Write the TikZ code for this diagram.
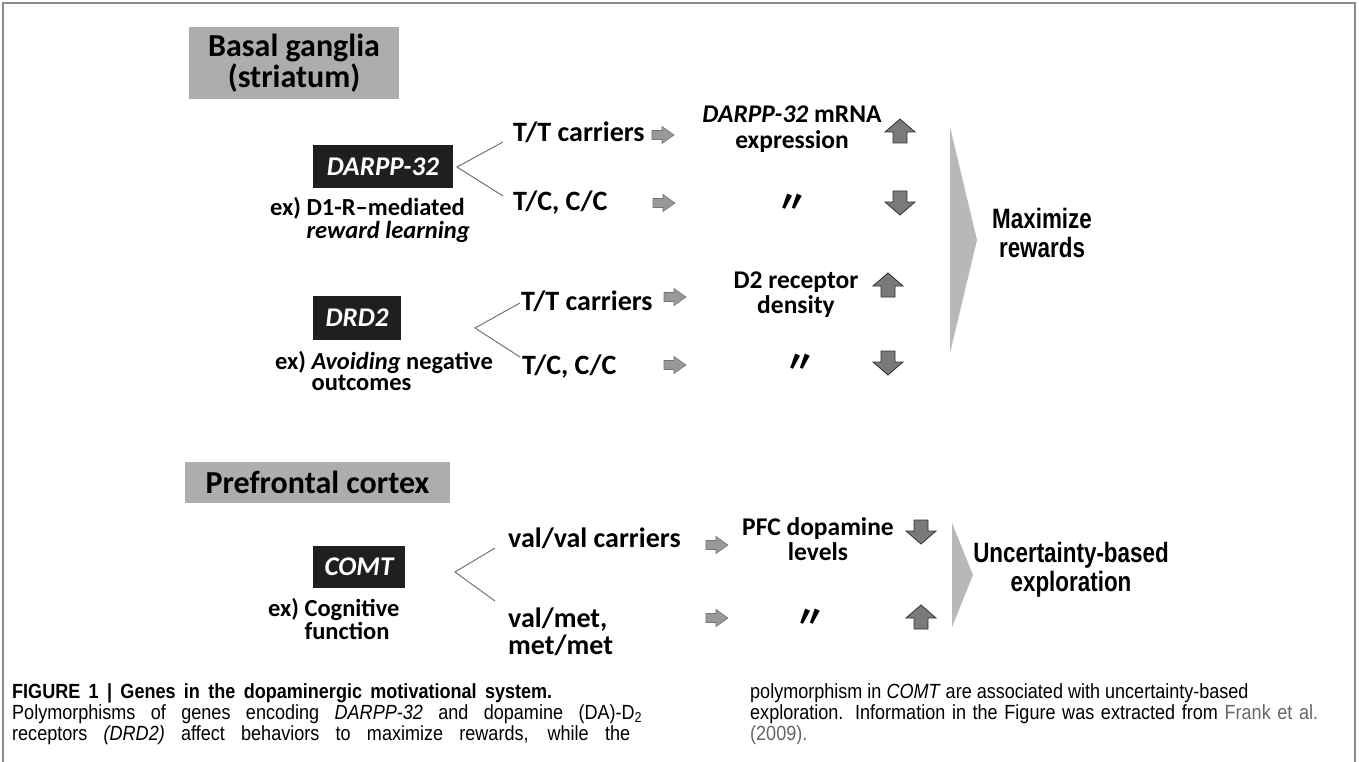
\documentclass[tikz,border=0pt]{standalone}
\usepackage{fontspec}
\setmainfont{Carlito}
\newfontfamily\outfont[FakeStretch=0.8]{Liberation Sans}
\newfontfamily\capfont[FakeStretch=0.88]{Liberation Sans}
\newfontfamily\jpfont{Noto Sans CJK JP}
\usepackage{xcolor}
\usepackage{tikz}
\usetikzlibrary{positioning}

\begin{document}
\begin{tikzpicture}[x=1pt, y=-1pt,
  region/.style={fill=black!32, inner sep=0pt, align=center, font=\fontsize{32}{31}\selectfont\bfseries},
  gene/.style={fill=black!88, text=white, inner sep=0pt, font=\fontsize{27}{27}\selectfont\bfseries\itshape},
  exlab/.style={anchor=base west, inner sep=0pt, font=\fontsize{24.5}{21.5}\selectfont\bfseries},
  geno/.style={anchor=base west, inner sep=0pt, font=\fontsize{28}{25}\selectfont\bfseries},
  effect/.style={anchor=base, inner sep=0pt, font=\fontsize{25.5}{24}\selectfont\bfseries},
  ditto/.style={inner sep=0pt, font=\jpfont\bfseries\fontsize{30}{30}\selectfont},
  fork/.style={draw=black!55, line width=1pt},
  pics/pointer/.style={code={
    \filldraw[fill=black!40, draw=black!55, line width=0.6pt]
      (-11,-4.5) -- (-1,-4.5) -- (-1,-8.5) -- (11,0) -- (-1,8.5) -- (-1,4.5) -- (-11,4.5) -- cycle;}},
  pics/bigup/.style={code={
    \filldraw[fill=black!52, draw=black!80, line width=0.8pt]
      (-7,12) -- (-7,1) -- (-15,1) -- (0,-12) -- (15,1) -- (7,1) -- (7,12) -- cycle;}},
  pics/bigdown/.style={code={
    \filldraw[fill=black!52, draw=black!80, line width=0.8pt]
      (-7,-12) -- (-7,-1) -- (-15,-1) -- (0,12) -- (15,-1) -- (7,-1) -- (7,-12) -- cycle;}},
  chevron/.style={fill=black!28},
  outcome/.style={anchor=base, inner sep=0pt, font=\outfont\fontsize{28}{29}\selectfont\bfseries},
  captext/.style={anchor=base west, inner sep=0pt, font=\capfont\fontsize{20.5}{21}\selectfont}
]
\useasboundingbox (0,0) rectangle (1359,762);
\draw[black!45, line width=1.5pt] (3,762) -- (3,3) -- (1355,3) -- (1355,762);

% basal ganglia
\node[region, minimum width=210pt, minimum height=72pt] (bg) at (294,63) {Basal ganglia\\(striatum)};

% DARPP-32
\node[gene, minimum width=140pt, minimum height=43pt] (darpp) at (383,166.5) {DARPP-32};
\node[exlab] (darppEx) at (270,215) {ex) \begin{tabular}[t]{@{}l@{}}D1-R--mediated\\\textit{reward learning}\end{tabular}};
\coordinate (dFork) at (457,167);
\coordinate (dForkUp) at (503,142);
\coordinate (dForkLo) at (503,196);
\draw[fork] (dForkUp) -- (dFork) -- (dForkLo);
\node[geno] (dTT) at (513,142) {T/T carriers};
\node[geno] (dTC) at (513,211) {T/C, C/C};
\pic (dArrA) at (663,135) {pointer};
\pic (dArrB) at (664,203) {pointer};
\node[effect] (dEff) at (792,123) {\begin{tabular}[t]{@{}c@{}}\textit{DARPP-32} mRNA\\expression\end{tabular}};
\node[ditto] (dSame) at (792,203) {〃};
\pic (dUp) at (900,131) {bigup};
\pic (dDown) at (900,203) {bigdown};

% DRD2
\node[gene, minimum width=88pt, minimum height=44pt] (drd) at (357,318) {DRD2};
\node[exlab] (drdEx) at (275,369) {ex) \begin{tabular}[t]{@{}l@{}}\textit{Avoiding} negative\\outcomes\end{tabular}};
\coordinate (rFork) at (475,328);
\coordinate (rForkUp) at (520,303);
\coordinate (rForkLo) at (520,357);
\draw[fork] (rForkUp) -- (rFork) -- (rForkLo);
\node[geno] (rTT) at (521,310) {T/T carriers};
\node[geno] (rTC) at (522,374) {T/C, C/C};
\pic (rArrA) at (675,297) {pointer};
\pic (rArrB) at (675,365) {pointer};
\node[effect] (rEff) at (796,288) {\begin{tabular}[t]{@{}c@{}}D2 receptor\\density\end{tabular}};
\node[ditto] (rSame) at (800,363) {〃};
\pic (rUp) at (888,285) {bigup};
\pic (rDown) at (888,363) {bigdown};

% maximize rewards
\fill[chevron] (950,127) -- (977,240) -- (950,353) -- cycle;
\node[outcome] (maxrew) at (1042,228) {\begin{tabular}[t]{@{}c@{}}Maximize\\rewards\end{tabular}};

% prefrontal cortex
\node[region, minimum width=265pt, minimum height=41pt] (pfc) at (317.5,482.5) {Prefrontal cortex};

% COMT
\node[gene, minimum width=92pt, minimum height=42pt] (comt) at (359,567) {COMT};
\node[exlab] (comtEx) at (268,616) {ex) \begin{tabular}[t]{@{}l@{}}Cognitive\\function\end{tabular}};
\coordinate (cFork) at (455,572);
\coordinate (cForkUp) at (495,548);
\coordinate (cForkLo) at (495,601);
\draw[fork] (cForkUp) -- (cFork) -- (cForkLo);
\node[geno] (cVV) at (508,547) {val/val carriers};
\node[geno] (cVM) at (508,627) {\begin{tabular}[t]{@{}l@{}}val/met,\\met/met\end{tabular}};
\pic (cArrA) at (717,545) {pointer};
\pic (cArrB) at (717,618) {pointer};
\node[effect] (cEff) at (818,535) {\begin{tabular}[t]{@{}c@{}}PFC dopamine\\levels\end{tabular}};
\node[ditto] (cSame) at (810,618) {〃};
\pic (cDown) at (921,532) {bigdown};
\pic (cUp) at (921,617) {bigup};

% uncertainty-based exploration
\fill[chevron] (952,523) -- (973,575) -- (952,627) -- cycle;
\node[outcome] (explore) at (1071,562) {\begin{tabular}[t]{@{}c@{}}Uncertainty-based\\exploration\end{tabular}};

% caption
\node[captext] (capA) at (12,698) {\makebox[540pt][s]{\bfseries FIGURE 1 | Genes in the dopaminergic motivational system.}};
\node[captext] (capB) at (12,719) {\makebox[630pt][s]{Polymorphisms of genes encoding \textit{DARPP-32} and dopamine (DA)-D\textsubscript{2}}};
\node[captext] (capC) at (12,740) {\makebox[618pt][s]{receptors \textit{(DRD2)} affect behaviors to maximize rewards, while the}};
\node[captext] (capD) at (750,698) {polymorphism in \textit{COMT} are associated with uncertainty-based};
\node[captext] (capE) at (750,719) {\makebox[568pt][s]{exploration. Information in the Figure was extracted from \textcolor{black!60}{Frank et al.}}};
\node[captext] (capF) at (750,740) {\textcolor{black!60}{(2009).}};
\end{tikzpicture}
\end{document}
